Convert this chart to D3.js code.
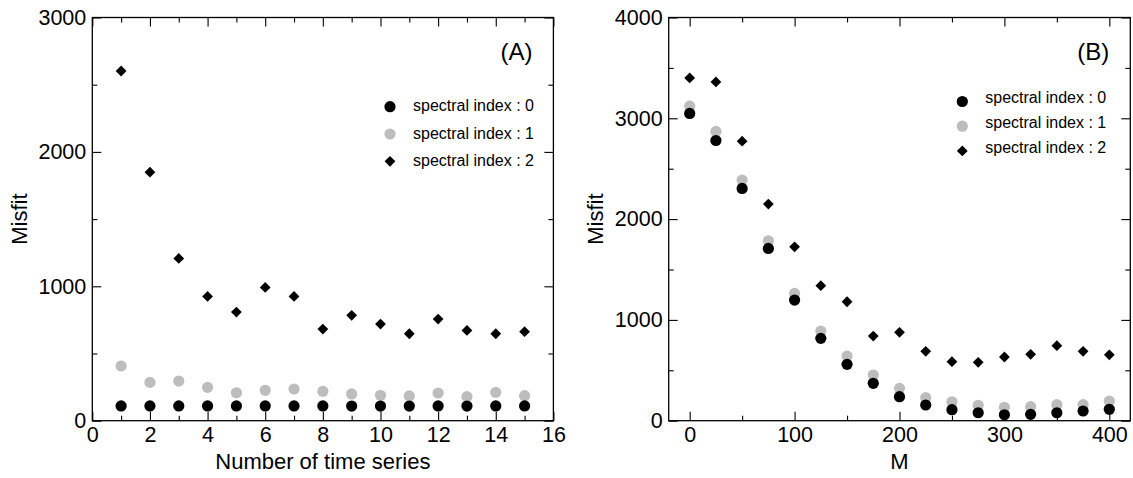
<!DOCTYPE html>
<meta charset="utf-8">
<style>
    body { margin: 0; background: #fff; }
    svg { display: block; font-family: "Liberation Sans", Arial, sans-serif; }
    .frame { fill: none; stroke: #000; stroke-width: 1.3; }
    .axis path { display: none; }
    .axis line { stroke: #000; stroke-width: 1.1; }
    .axis text { font-size: 21.5px; fill: #000; font-family: "Liberation Sans", Arial, sans-serif; }
</style>

<body>
    <svg width="1133" height="478"></svg>
    <script src="https://d3js.org/d3.v7.min.js"></script>
    <script>
        // panel (A): misfit vs number of time series
        var seriesCountA = [1, 2, 3, 4, 5, 6, 7, 8, 9, 10, 11, 12, 13, 14, 15];
        var misfitA_idx0 = [110, 110, 110, 110, 110, 110, 110, 110, 109, 109, 109, 110, 109, 110, 110];
        var misfitA_idx1 = [407, 285, 295, 248, 208, 226, 236, 219, 199, 189, 184, 206, 179, 211, 186];
        var misfitA_idx2 = [2602, 1849, 1207, 925, 808, 992, 925, 682, 784, 719, 647, 756, 672, 647, 662];

        // panel (B): misfit vs M
        var mValuesB = [0, 25, 50, 75, 100, 125, 150, 175, 200, 225, 250, 275, 300, 325, 350, 375, 400];
        var misfitB_idx0 = [3048, 2780, 2304, 1709, 1197, 817, 559, 371, 238, 156, 109, 79, 59, 63, 79, 96, 113];
        var misfitB_idx1 = [3120, 2870, 2387, 1785, 1263, 889, 641, 453, 321, 228, 188, 153, 133, 139, 159, 159, 195];
        var misfitB_idx2 = [3401, 3361, 2773, 2149, 1725, 1339, 1180, 840, 877, 688, 585, 579, 632, 658, 744, 688, 654];

        var legendLabels = ["spectral index : 0", "spectral index : 1", "spectral index : 2"];

        var svg = d3.select("svg");
        var top_ = 17.5, bottom_ = 420.7;
        var grey = "#bdbdbd";

        var diamond = d3.symbol().type(d3.symbolSquare).size(58);

        function panel(opt) {
            var w = opt.right - opt.left, h = bottom_ - top_;
            var g = svg.append("g").attr("transform", "translate(" + opt.left + "," + top_ + ")");

            var x = d3.scaleLinear().domain(opt.xDomain).range([0, w]);
            var y = d3.scaleLinear().domain(opt.yDomain).range([h, 0]);
            var fmt = d3.format("d");

            // major ticks with labels (inward)
            g.append("g").attr("class", "axis").attr("transform", "translate(0," + h + ")")
                .call(d3.axisBottom(x).tickValues(opt.xMajor).tickSize(-9).tickPadding(6).tickFormat(fmt));
            g.append("g").attr("class", "axis")
                .call(d3.axisLeft(y).tickValues(opt.yMajor).tickSize(-9).tickPadding(6).tickFormat(fmt));
            // minor ticks
            g.append("g").attr("class", "axis").attr("transform", "translate(0," + h + ")")
                .call(d3.axisBottom(x).tickValues(opt.xMinor).tickSize(-5).tickFormat(""));
            g.append("g").attr("class", "axis")
                .call(d3.axisLeft(y).tickValues(opt.yMinor).tickSize(-5).tickFormat(""));
            // mirrored ticks on top / right
            g.append("g").attr("class", "axis")
                .call(d3.axisBottom(x).tickValues(opt.xMajor).tickSize(9).tickFormat(""));
            g.append("g").attr("class", "axis")
                .call(d3.axisBottom(x).tickValues(opt.xMinor).tickSize(5).tickFormat(""));
            g.append("g").attr("class", "axis").attr("transform", "translate(" + w + ",0)")
                .call(d3.axisRight(y).tickValues(opt.yMajor).tickSize(-9).tickFormat(""));
            g.append("g").attr("class", "axis").attr("transform", "translate(" + w + ",0)")
                .call(d3.axisRight(y).tickValues(opt.yMinor).tickSize(-5).tickFormat(""));

            g.append("rect").attr("class", "frame").attr("width", w).attr("height", h);

            // data
            var dots = g.append("g");
            dots.selectAll(".d2").data(opt.xs.map(function (v, i) { return [v, opt.s2[i]]; }))
                .enter().append("path")
                .attr("d", diamond)
                .attr("transform", function (d) { return "translate(" + x(d[0]) + "," + y(d[1]) + ") rotate(45)"; })
                .attr("fill", "#000");
            dots.selectAll(".d1").data(opt.xs.map(function (v, i) { return [v, opt.s1[i]]; }))
                .enter().append("circle")
                .attr("r", 5.6).attr("fill", grey)
                .attr("cx", function (d) { return x(d[0]); })
                .attr("cy", function (d) { return y(d[1]); });
            dots.selectAll(".d0").data(opt.xs.map(function (v, i) { return [v, opt.s0[i]]; }))
                .enter().append("circle")
                .attr("r", 5.6).attr("fill", "#000")
                .attr("cx", function (d) { return x(d[0]); })
                .attr("cy", function (d) { return y(d[1]); });

            // axis titles
            g.append("text")
                .attr("x", w / 2).attr("y", h + 48)
                .attr("text-anchor", "middle")
                .style("font-size", "22px")
                .text(opt.xTitle);
            g.append("text")
                .attr("transform", "translate(-73," + (h / 2) + ") rotate(-90)")
                .attr("dy", "0.35em")
                .attr("text-anchor", "middle")
                .style("font-size", "22px")
                .text("Misfit");

            // panel tag
            g.append("text")
                .attr("x", w - 21).attr("y", 42)
                .attr("text-anchor", "end")
                .style("font-size", "24px")
                .text(opt.tag);

            // legend
            var lg = g.append("g");
            legendLabels.forEach(function (lab, i) {
                var ly = opt.legY + i * opt.legStep;
                if (i < 2) {
                    lg.append("circle").attr("cx", opt.legX).attr("cy", ly).attr("r", 5.6)
                        .attr("fill", i == 0 ? "#000" : grey);
                } else {
                    lg.append("path").attr("d", diamond)
                        .attr("transform", "translate(" + opt.legX + "," + ly + ") rotate(45)");
                }
                lg.append("text")
                    .attr("x", opt.legX + 23).attr("y", ly + opt.legTextDy)
                    .attr("dy", "0.35em")
                    .style("font-size", "16px")
                    .text(lab);
            });
        }

        panel({
            left: 92.3, right: 553.4,
            xDomain: [0, 16], yDomain: [0, 3000],
            xMajor: [0, 2, 4, 6, 8, 10, 12, 14, 16], xMinor: [1, 3, 5, 7, 9, 11, 13, 15],
            yMajor: [0, 1000, 2000, 3000], yMinor: [500, 1500, 2500],
            xs: seriesCountA, s0: misfitA_idx0, s1: misfitA_idx1, s2: misfitA_idx2,
            xTitle: "Number of time series", tag: "(A)",
            legX: 390 - 92.3, legY: 106.7 - 17.5, legStep: 27.3, legTextDy: -1
        });

        panel({
            left: 668.7, right: 1130.3,
            xDomain: [-20, 420], yDomain: [0, 4000],
            xMajor: [0, 100, 200, 300, 400], xMinor: [50, 150, 250, 350],
            yMajor: [0, 1000, 2000, 3000, 4000], yMinor: [500, 1500, 2500, 3500],
            xs: mValuesB, s0: misfitB_idx0, s1: misfitB_idx1, s2: misfitB_idx2,
            xTitle: "M", tag: "(B)",
            legX: 962.3 - 668.7, legY: 101.5 - 17.5, legStep: 24.7, legTextDy: -4
        });
    </script>
</body>
